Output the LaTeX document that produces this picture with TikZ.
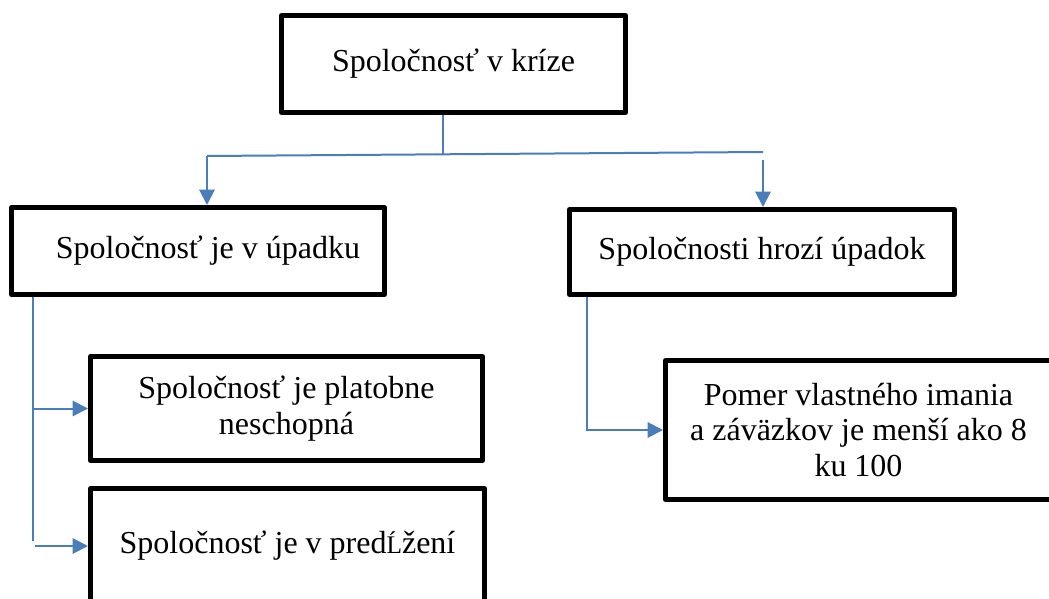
\documentclass[tikz,border=0pt]{standalone}
\usepackage{fontspec}
\setmainfont{Liberation Serif}
\usetikzlibrary{arrows.meta}
\definecolor{linkblue}{RGB}{74,126,187}
\begin{document}
\begin{tikzpicture}[x=0.75pt, y=-0.75pt,
  font=\fontsize{24}{26.5}\selectfont,
  box/.style={draw, line width=3.75pt, line join=round, inner sep=0pt, align=center},
  lnk/.style={line width=1.5pt, draw=linkblue},
  arr/.style={lnk, -{Triangle[length=11.5pt,width=11.5pt]}}
]
  \useasboundingbox (0,0) rectangle (1049,599);
  \clip (0,0) rectangle (1049,599);
  \node[box, minimum width=258pt,    minimum height=72.75pt] (krize)    at (453.5,64)  {Spoločnosť v kríze};
  \node[box, minimum width=279.75pt, minimum height=65.25pt] (upadku)   at (198,251)   {\hspace*{15pt}Spoločnosť je v úpadku};
  \node[box, minimum width=288.75pt, minimum height=63.75pt] (hrozi)    at (762,252)   {Spoločnosti hrozí úpadok};
  \node[box, minimum width=294pt,    minimum height=78pt]    (platobne) at (286.5,408.5) {Spoločnosť je platobne\\neschopná};
  \node[box, minimum width=295.5pt,  minimum height=86.25pt] (predlz)   at (287.5,546) {Spoločnosť je v pred{\fontsize{19}{19}\selectfont Ĺ}žení};
  \node[box, minimum width=289.5pt,  minimum height=104.25pt] (pomer)   at (858.5,430) {Pomer vlastného imania\\a záväzkov je menší ako 8\\ku 100};
  \coordinate (split) at (443,154);
  \coordinate (hl) at (207,156);
  \coordinate (hr) at (763,152);
  \coordinate (lv) at (33,541);
  \coordinate (rv) at (587,432);
  \draw[lnk] (krize.south -| split) -- (split);
  \draw[lnk] (hl) -- (hr);
  \draw[arr] (hl) -- (hl |- upadku.north);
  \draw[arr] ([yshift=-6pt]hr) -- (hr |- hrozi.north);
  \draw[lnk] (lv |- upadku.south) -- (lv);
  \draw[arr] (lv |- platobne.west) -- (platobne.west);
  \draw[arr] ([xshift=1.5pt]lv |- predlz.west) -- (predlz.west);
  \draw[arr] (rv |- hrozi.south) |- (pomer.west);
\end{tikzpicture}
\end{document}
